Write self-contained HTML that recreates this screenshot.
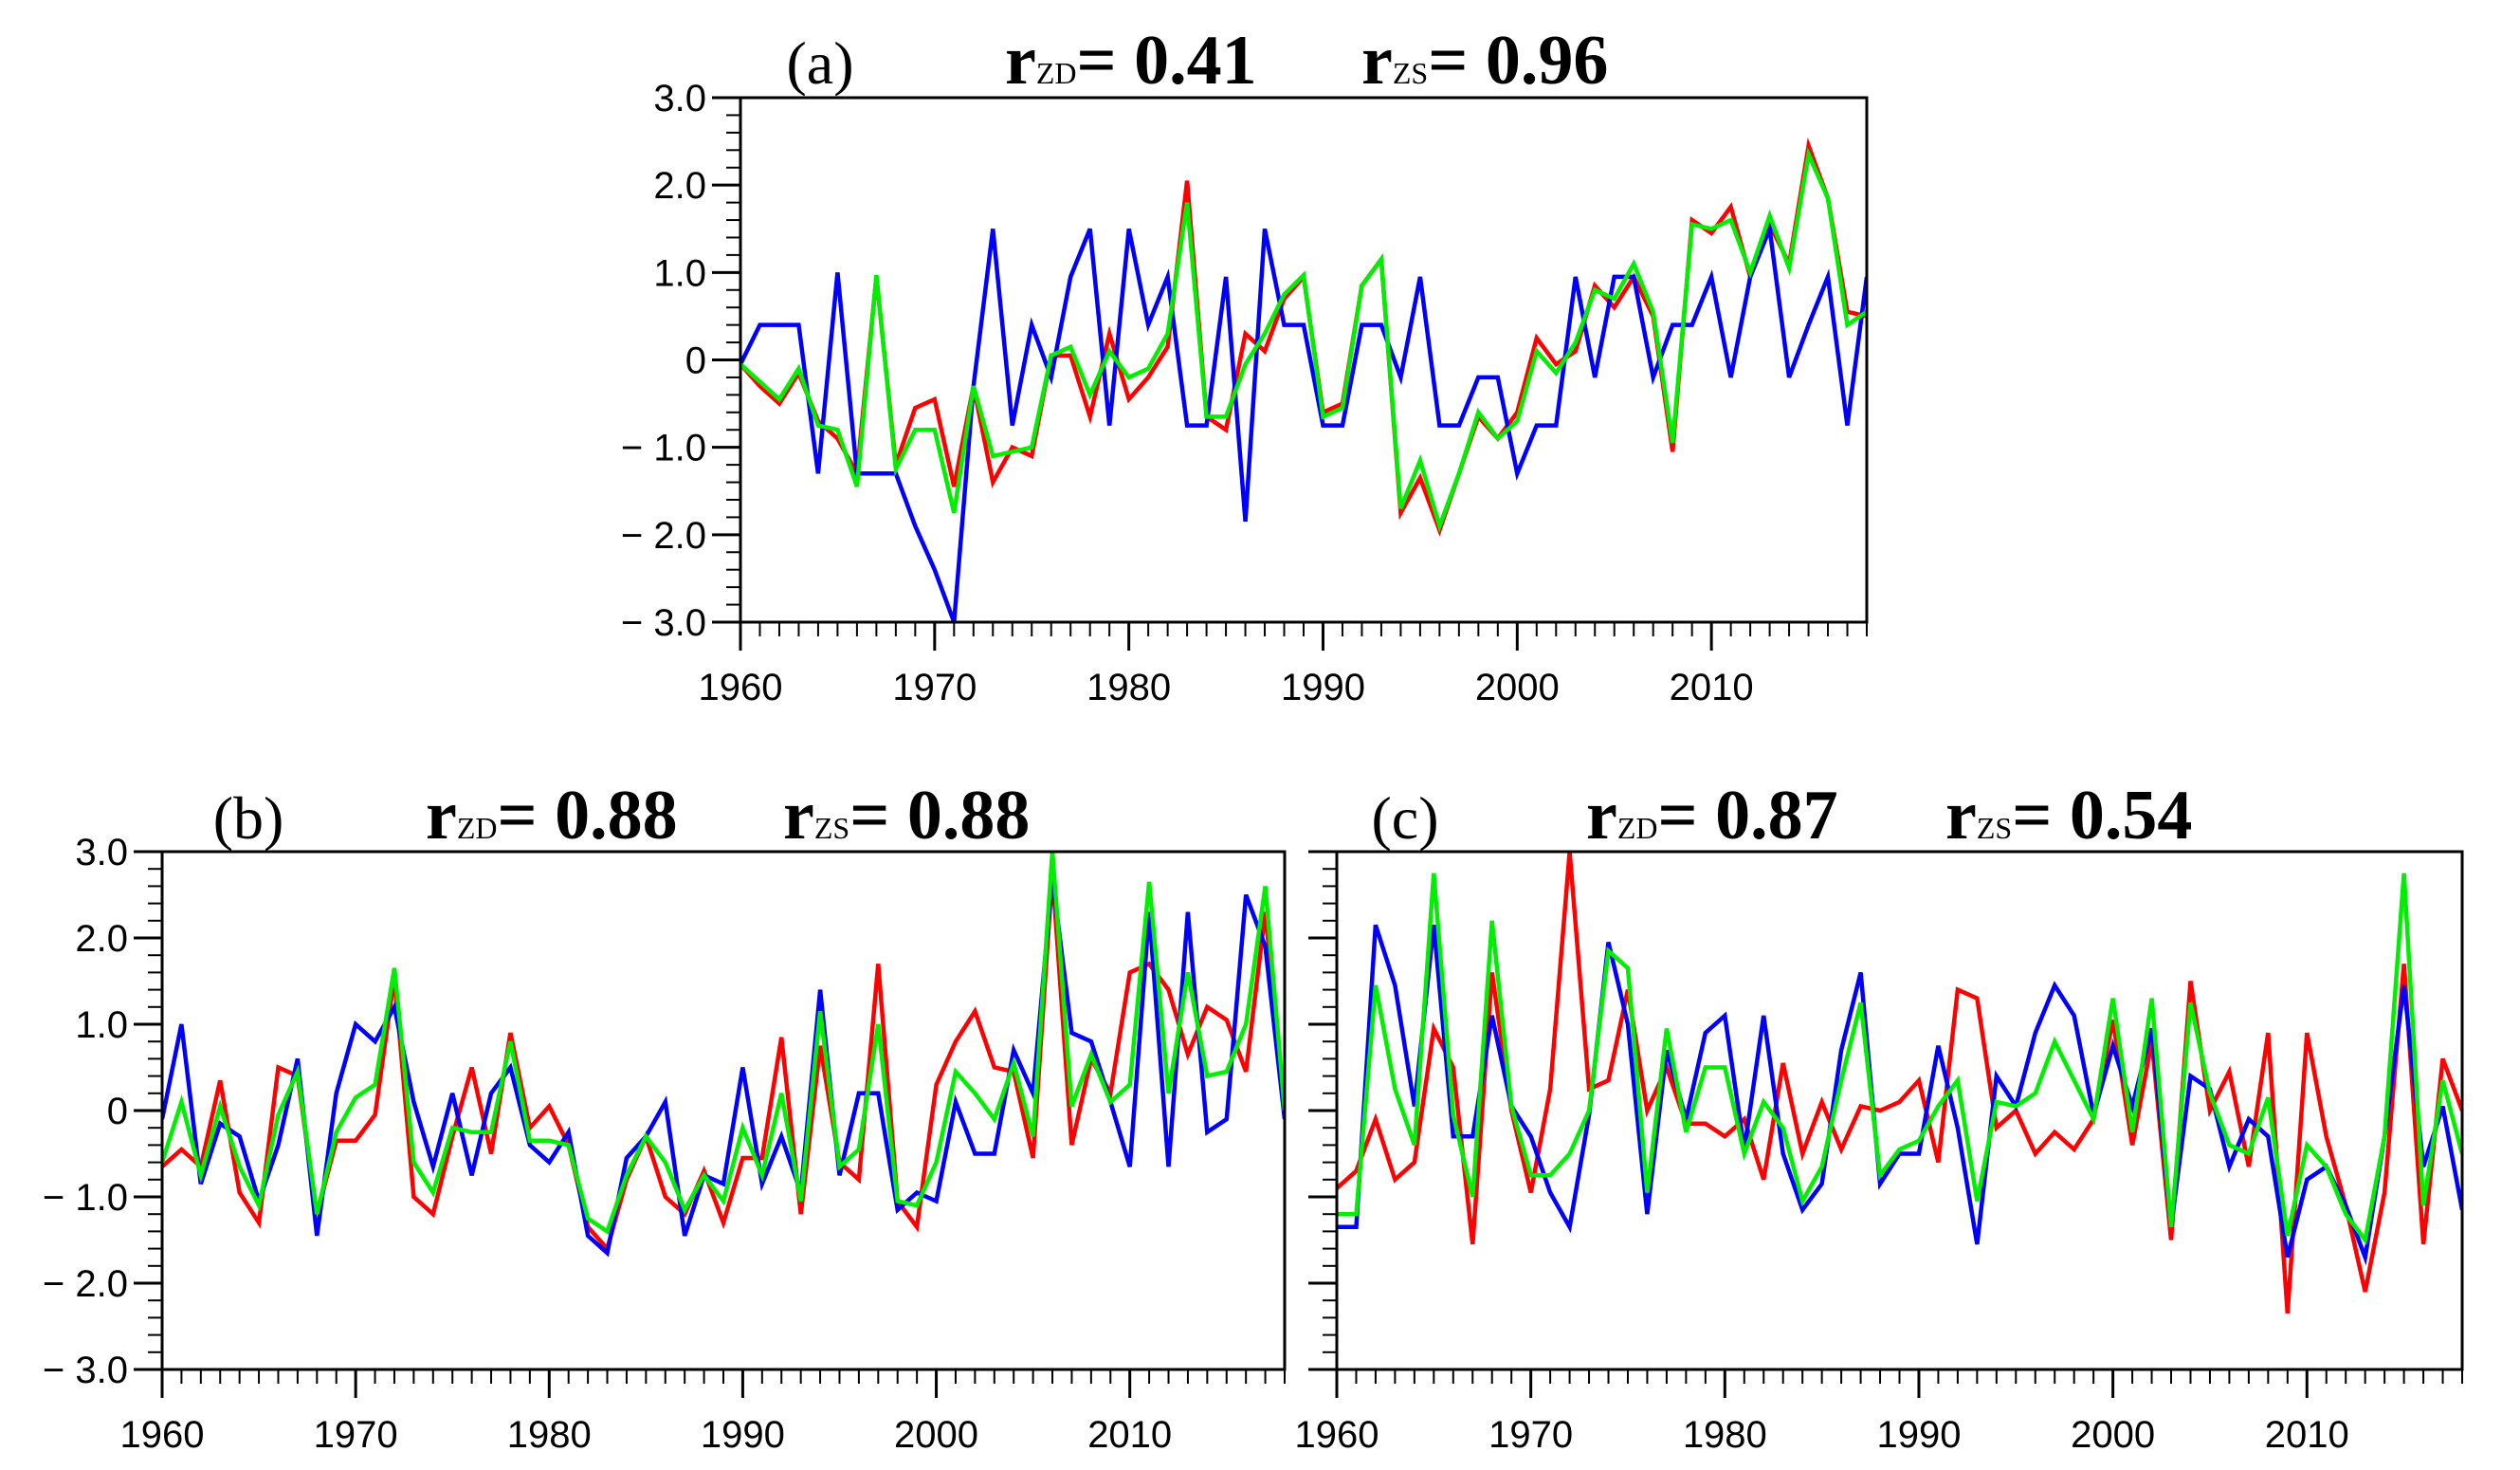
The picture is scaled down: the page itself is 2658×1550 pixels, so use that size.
<!DOCTYPE html>
<html><head><meta charset="utf-8"><style>
html,body{margin:0;padding:0;background:#fff;}
svg{display:block;}
</style></head><body>
<svg id="fig" width="2658" height="1550" viewBox="0 0 2658 1550" xmlns="http://www.w3.org/2000/svg"></svg>
<script>
const years = []; for (let y = 1960; y <= 2018; y++) years.push(y);
const yTicks = [-3, -2, -1, 0, 1, 2, 3];
const yTickLabels = ["\u2212 3.0", "\u2212 2.0", "\u2212 1.0", "0", "1.0", "2.0", "3.0"];
const xTicks = [1960, 1970, 1980, 1990, 2000, 2010];

const aBlue = [-0.05,0.4,0.4,0.4,-1.3,1.0,-1.3,-1.3,-1.3,-1.9,-2.4,-3.0,-0.3,1.5,-0.75,0.4,-0.2,0.95,1.5,-0.75,1.5,0.4,0.95,-0.75,-0.75,0.95,-1.85,1.5,0.4,0.4,-0.75,-0.75,0.4,0.4,-0.2,0.95,-0.75,-0.75,-0.2,-0.2,-1.3,-0.75,-0.75,0.95,-0.2,0.95,0.95,-0.2,0.4,0.4,0.95,-0.2,0.95,1.5,-0.2,0.4,0.95,-0.75,0.95];
const aRed = [-0.05,-0.3,-0.5,-0.15,-0.7,-0.9,-1.3,0.95,-1.2,-0.55,-0.45,-1.45,-0.3,-1.4,-1.0,-1.1,0.05,0.05,-0.65,0.3,-0.45,-0.2,0.15,2.05,-0.65,-0.8,0.3,0.1,0.7,0.95,-0.6,-0.5,0.85,1.15,-1.75,-1.35,-1.95,-1.3,-0.65,-0.9,-0.6,0.25,-0.05,0.1,0.85,0.6,0.95,0.5,-1.05,1.6,1.45,1.75,0.95,1.55,1.1,2.45,1.85,0.55,0.5];
const aGreen = [-0.05,-0.25,-0.45,-0.1,-0.75,-0.8,-1.45,0.97,-1.25,-0.8,-0.8,-1.75,-0.3,-1.1,-1.05,-1.0,0.05,0.15,-0.4,0.1,-0.2,-0.1,0.3,1.8,-0.65,-0.65,-0.05,0.3,0.75,0.97,-0.65,-0.55,0.85,1.15,-1.7,-1.15,-1.9,-1.3,-0.6,-0.9,-0.7,0.1,-0.15,0.2,0.8,0.7,1.1,0.55,-0.95,1.55,1.5,1.6,1.0,1.65,1.05,2.35,1.85,0.4,0.55];

const bBlue = [-0.1,1.0,-0.85,-0.15,-0.3,-1.05,-0.4,0.6,-1.45,0.2,1.0,0.8,1.2,0.1,-0.65,0.2,-0.75,0.2,0.5,-0.4,-0.6,-0.25,-1.45,-1.65,-0.55,-0.3,0.1,-1.45,-0.75,-0.85,0.5,-0.85,-0.3,-0.95,1.4,-0.75,0.2,0.2,-1.15,-0.95,-1.05,0.1,-0.5,-0.5,0.7,0.2,2.7,0.9,0.8,0.1,-0.65,2.3,-0.65,2.3,-0.25,-0.1,2.5,1.9,-0.1];
const bRed = [-0.65,-0.45,-0.65,0.35,-0.95,-1.3,0.5,0.4,-1.2,-0.35,-0.35,-0.05,1.55,-1.0,-1.2,-0.3,0.5,-0.5,0.9,-0.2,0.05,-0.4,-1.35,-1.6,-0.8,-0.3,-1.0,-1.2,-0.7,-1.3,-0.55,-0.55,0.85,-1.2,0.75,-0.6,-0.8,1.7,-1.05,-1.35,0.3,0.8,1.15,0.5,0.45,-0.55,2.75,-0.4,0.6,0.2,1.6,1.7,1.4,0.65,1.2,1.05,0.45,2.3,0.0];
const bGreen = [-0.6,0.1,-0.75,0.05,-0.65,-1.1,-0.05,0.45,-1.2,-0.25,0.15,0.3,1.65,-0.6,-0.95,-0.2,-0.25,-0.25,0.8,-0.35,-0.35,-0.4,-1.25,-1.4,-0.75,-0.3,-0.6,-1.15,-0.75,-1.05,-0.2,-0.75,0.2,-1.05,1.15,-0.65,-0.45,1.0,-1.05,-1.1,-0.6,0.45,0.2,-0.1,0.55,-0.3,3.0,0.05,0.65,0.1,0.3,2.65,0.2,1.6,0.4,0.45,1.0,2.6,0.0];

const cBlue = [-1.35,-1.35,2.15,1.45,0.05,2.15,-0.3,-0.3,1.1,0.05,-0.3,-0.95,-1.35,-0.05,1.95,1.0,-1.2,0.7,-0.1,0.9,1.1,-0.45,1.1,-0.5,-1.15,-0.85,0.7,1.6,-0.85,-0.5,-0.5,0.75,-0.2,-1.55,0.4,0.05,0.9,1.45,1.1,-0.05,0.75,0.05,0.95,-1.35,0.4,0.25,-0.65,-0.1,-0.3,-1.7,-0.8,-0.65,-1.1,-1.7,-0.3,1.45,-0.65,0.05,-1.15];
const cRed = [-0.9,-0.7,-0.1,-0.8,-0.6,0.95,0.5,-1.55,1.6,0.0,-0.95,0.25,3.0,0.25,0.35,1.4,0.0,0.5,-0.15,-0.15,-0.3,-0.1,-0.8,0.55,-0.5,0.1,-0.45,0.05,0.0,0.1,0.35,-0.6,1.4,1.3,-0.2,0.0,-0.5,-0.25,-0.45,-0.1,1.05,-0.4,0.8,-1.5,1.5,0.0,0.45,-0.65,0.9,-2.35,0.9,-0.3,-1.1,-2.1,-0.95,1.7,-1.55,0.6,0.0];
const cGreen = [-1.2,-1.2,1.45,0.25,-0.4,2.75,-0.05,-1.0,2.2,0.05,-0.75,-0.75,-0.5,0.0,1.85,1.65,-0.95,0.95,-0.25,0.5,0.5,-0.5,0.1,-0.2,-1.05,-0.65,0.35,1.25,-0.75,-0.45,-0.35,0.05,0.35,-1.05,0.1,0.05,0.2,0.8,0.35,-0.1,1.3,-0.25,1.3,-1.35,1.25,0.2,-0.4,-0.5,0.15,-1.45,-0.4,-0.65,-1.2,-1.5,-0.3,2.75,-1.1,0.35,-0.5];

const NS = "http://www.w3.org/2000/svg";
const svg = document.getElementById('fig');
function mk(tag, attrs, parent) {
  const e = document.createElementNS(NS, tag);
  for (const k in attrs) e.setAttribute(k, attrs[k]);
  (parent || svg).appendChild(e);
  return e;
}

const panels = [
  {id:'a', L:781, R:1969, T:103, B:656, labels:true, blue:aBlue, red:aRed, green:aGreen,
   tagX:865, r1X:1060, v1:"0.41", r2X:1436, v2:"0.96", titleY:88},
  {id:'b', L:171, R:1355, T:898, B:1444, labels:true, blue:bBlue, red:bRed, green:bGreen,
   tagX:262, r1X:449, v1:"0.88", r2X:826, v2:"0.88", titleY:884},
  {id:'c', L:1410, R:2597, T:898, B:1444, labels:false, blue:cBlue, red:cRed, green:cGreen,
   tagX:1482, r1X:1673, v1:"0.87", r2X:2052, v2:"0.54", titleY:884}
];

panels.forEach(p => {
  const g = mk('g', {});
  
  
  const xs = y => p.L + (y - 1960) / (2018 - 1960) * (p.R - p.L);
  const ys = v => p.B - (v + 3) / 6 * (p.B - p.T);

  const cp = mk('clipPath', {id:'clip-' + p.id}, g);
  mk('rect', {x:p.L, y:p.T - 2, width:p.R - p.L, height:p.B - p.T + 4}, cp);

  const yt = mk('g', {stroke:'#000'}, g);
  
  
  for (let i = -30; i <= 30; i += 2) {
    const v = i / 10, major = (i % 10 === 0);
    mk('line', {x1:p.L - (major ? 30 : 15), x2:p.L, y1:ys(v), y2:ys(v), 'stroke-width': major ? 3 : 2}, yt);
  }
  if (p.labels) {
    yTicks.forEach((v, i) => {
      const t = mk('text', {x:p.L - 36, y:ys(v) + 14, 'text-anchor':'end', 'font-family':'Liberation Sans, sans-serif', 'font-size':40, fill:'#000'}, g);
      
      
      t.textContent = yTickLabels[i];
    });
  }
  const xt = mk('g', {stroke:'#000'}, g);
  
  
  years.forEach(y => {
    const major = (y % 10 === 0);
    mk('line', {x1:xs(y), x2:xs(y), y1:p.B, y2:p.B + (major ? 30 : 15), 'stroke-width': major ? 3 : 2}, xt);
  });
  xTicks.forEach(y => {
    const t = mk('text', {x:xs(y), y:p.B + 82, 'text-anchor':'middle', 'font-family':'Liberation Sans, sans-serif', 'font-size':40, fill:'#000'}, g);
    
    
    t.textContent = y;
  });

  [['red', p.red, '#ff0000'], ['blue', p.blue, '#0000ff'], ['green', p.green, '#00ee00']].forEach(s => {
    const d = s[1].map((v, i) => (i ? 'L' : 'M') + xs(years[i]).toFixed(1) + ',' + ys(v).toFixed(1)).join(' ');
    const path = mk('path', {d:d, fill:'none', stroke:s[2], 'stroke-width':4.5, 'stroke-linejoin':'miter', 'clip-path':'url(#clip-' + p.id + ')'}, g);
    
    
  });

  const fr = mk('rect', {x:p.L, y:p.T, width:p.R - p.L, height:p.B - p.T, fill:'none', stroke:'#000', 'stroke-width':3}, g);
  
  

  const tf = 'Liberation Serif, serif';
  const tag = mk('text', {x:p.tagX, y:p.titleY, 'text-anchor':'middle', 'font-family':tf, 'font-size':64, fill:'#000'}, g);
  
  
  tag.textContent = '(' + p.id + ')';
  [[p.r1X, 'ZD', p.v1, 'r-zd'], [p.r2X, 'ZS', p.v2, 'r-zs']].forEach(r => {
    const t = mk('text', {x:r[0], y:p.titleY, 'font-family':tf, 'font-size':74, 'font-weight':'bold', fill:'#000'}, g);
    
    
    const s1 = mk('tspan', {}, t); s1.textContent = 'r';
    const s2 = mk('tspan', {'font-size':32, 'font-weight':'normal'}, t); s2.textContent = r[1];
    const s3 = mk('tspan', {}, t); s3.textContent = '= ' + r[2];
  });
});
</script>
</body></html>
